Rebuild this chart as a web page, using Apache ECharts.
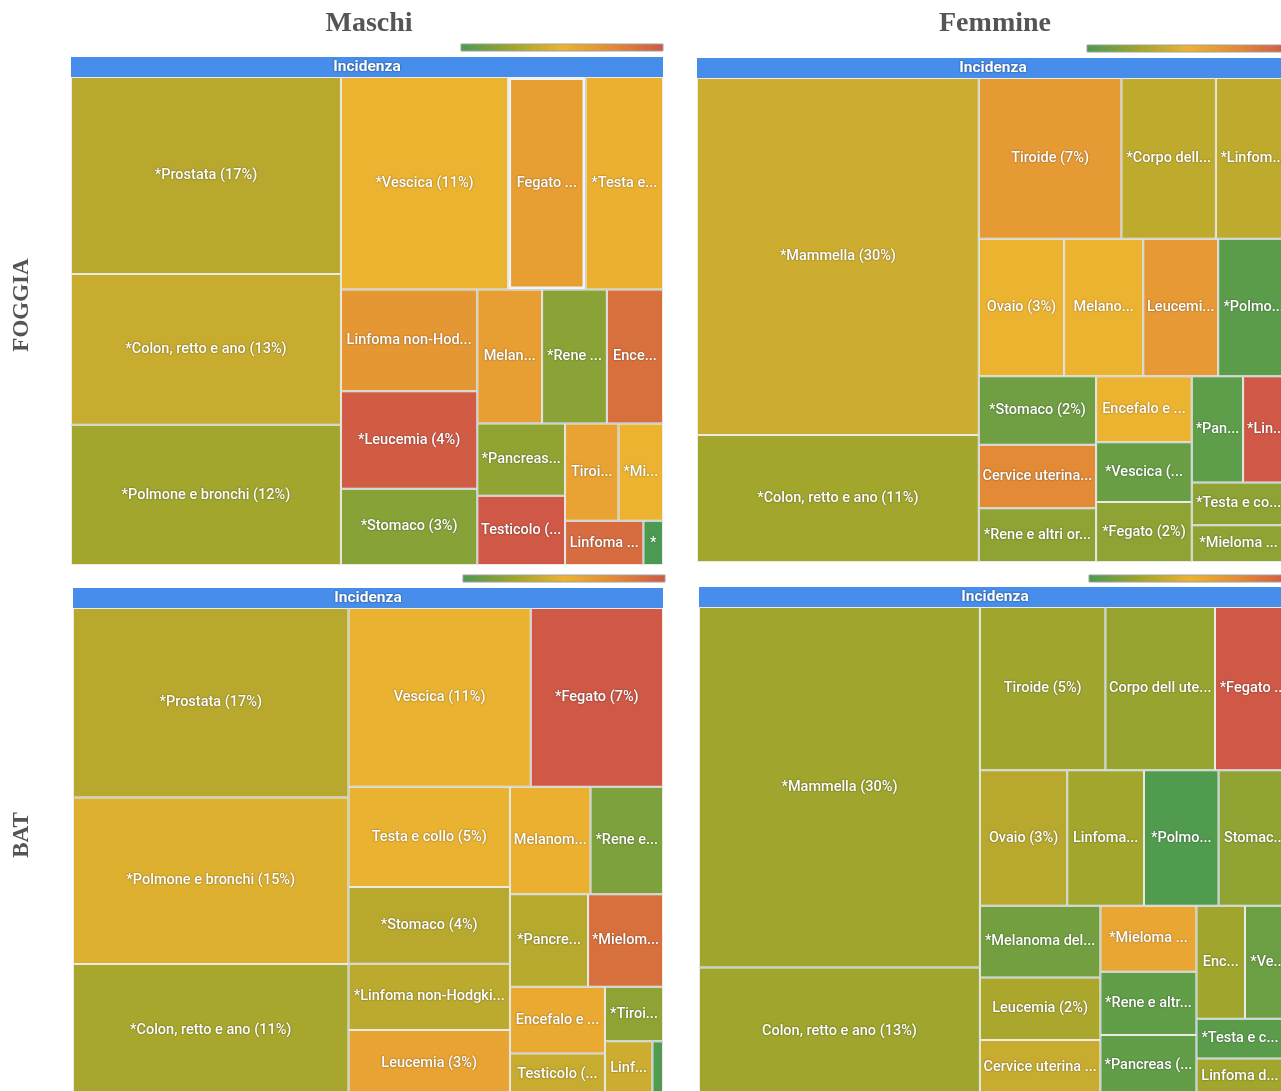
<!DOCTYPE html>
<html>
<head>
<meta charset="utf-8">
<title>Incidenza - Foggia e BAT</title>
<script src="https://cdn.jsdelivr.net/npm/echarts@6/dist/echarts.min.js"></script>
<style>
  html, body {margin: 0; padding: 0; background: #fff;}
  #chart {width: 1281px; height: 1091px;}
</style>
</head>
<body>
<div id="chart"></div>
<script>
// FOGGIA - Maschi
const fgMaschiNames = ['*Prostata (17%)', '*Colon, retto e ano (13%)', '*Polmone e bronchi (12%)', '*Vescica (11%)',
  '*Testa e collo (5%)', 'Fegato (5%)', 'Linfoma non-Hodgkin (4%)', '*Leucemia (4%)', '*Stomaco (3%)',
  '*Rene e altri organi urinari (3%)', 'Melanoma della pelle (3%)', 'Encefalo e Sistema nervoso centrale (2%)',
  '*Pancreas (2%)', 'Testicolo (2%)', 'Tiroide (1%)', '*Mieloma multiplo (1%)', 'Linfoma di Hodgkin (1%)', '*Mesotelioma (0%)'];
const fgMaschiSize = [18.4, 14.1, 13.1, 12.3, 5.7, 5.7, 4.8, 4.6, 3.6, 3.0, 3.0, 2.6, 2.2, 2.1, 1.8, 1.5, 1.2, 0.3];
const fgMaschiTone = [0.33, 0.38, 0.26, 0.5, 0.52, 0.62, 0.67, 0.98, 0.18, 0.19, 0.63, 0.88, 0.21, 1.0, 0.6, 0.5, 0.9, 0.0];

// FOGGIA - Femmine
const fgFemmineNames = ['*Mammella (30%)', '*Colon, retto e ano (11%)', 'Tiroide (7%)', '*Corpo dell utero (4%)', 'Ovaio (3%)',
  '*Linfoma non-Hodgkin (3%)', 'Leucemia (3%)', 'Melanoma della pelle (3%)', '*Polmone e bronchi (3%)', '*Stomaco (2%)',
  'Cervice uterina (2%)', 'Encefalo e Sistema nervoso centrale (2%)', '*Rene e altri organi urinari (2%)', '*Fegato (2%)',
  '*Vescica (2%)', '*Pancreas (2%)', '*Linfoma di Hodgkin (1%)', '*Testa e collo (1%)', '*Mieloma multiplo (1%)', '*Mesotelioma (0%)'];
const fgFemmineSize = [35.1, 12.5, 8.0, 5.3, 4.1, 4.1, 3.6, 3.8, 3.4, 2.8, 2.6, 2.2, 2.2, 2.0, 2.0, 1.9, 1.7, 1.4, 1.2, 0.1];
const fgFemmineTone = [0.4, 0.26, 0.65, 0.35, 0.5, 0.35, 0.66, 0.5, 0.05, 0.11, 0.75, 0.5, 0.2, 0.2, 0.09, 0.06, 1.0, 0.2, 0.2, 0.0];

// BAT - Maschi
const batMaschiNames = ['*Prostata (17%)', '*Polmone e bronchi (15%)', '*Colon, retto e ano (11%)', 'Vescica (11%)', '*Fegato (7%)',
  'Testa e collo (5%)', '*Stomaco (4%)', 'Leucemia (3%)', '*Linfoma non-Hodgkin (3%)', 'Melanoma della pelle (3%)',
  '*Rene e altri organi urinari (2%)', '*Pancreas (2%)', '*Mieloma multiplo (2%)', 'Encefalo e Sistema nervoso centrale (2%)',
  'Testicolo (1%)', '*Tiroide (1%)', 'Linfoma di Hodgkin (1%)', '*Mesotelioma (0%)'];
const batMaschiSize = [18.1, 15.9, 12.6, 11.3, 8.2, 5.6, 4.3, 3.7, 3.7, 3.0, 2.7, 2.5, 2.4, 2.2, 1.4, 1.1, 0.9, 0.2];
const batMaschiTone = [0.33, 0.45, 0.28, 0.49, 1.0, 0.49, 0.33, 0.6, 0.34, 0.52, 0.15, 0.32, 0.88, 0.56, 0.38, 0.2, 0.4, 0.02];

// BAT - Femmine
const batFemmineNames = ['*Mammella (30%)', 'Colon, retto e ano (13%)', 'Tiroide (5%)', 'Corpo dell utero (5%)', '*Fegato (4%)',
  'Ovaio (3%)', 'Linfoma non-Hodgkin (3%)', '*Polmone e bronchi (3%)', 'Stomaco (3%)', '*Melanoma della pelle (3%)',
  'Leucemia (2%)', 'Cervice uterina (2%)', '*Mieloma multiplo (2%)', '*Rene e altri organi urinari (2%)', '*Pancreas (2%)',
  'Encefalo e Sistema nervoso centrale (2%)', '*Vescica (2%)', '*Testa e collo (1%)', 'Linfoma di Hodgkin (1%)', 'Mesotelioma (0%)'];
const batFemmineSize = [35.1, 12.4, 7.1, 6.2, 4.3, 4.1, 3.6, 3.5, 3.4, 3.0, 2.6, 2.3, 2.2, 2.1, 2.0, 1.9, 1.8, 1.2, 1.1, 0.2];
const batFemmineTone = [0.25, 0.25, 0.25, 0.23, 1.0, 0.33, 0.26, 0.02, 0.21, 0.12, 0.29, 0.38, 0.58, 0.07, 0.07, 0.25, 0.1, 0.05, 0.26, 0.0];

const colorScale = ['#4a9a52', '#9fa52d', '#ecb330', '#e28a36', '#cf5846'];
const sans = 'Roboto, "Noto Sans", sans-serif';
const serif = '"Liberation Serif", "DejaVu Serif", serif';

// [left, top, width, height] of each treemap (header included)
const boxes = [[71, 57, 592, 508], [697, 58, 592, 504], [73, 588, 590, 508], [699, 587, 592, 508]];

function makeSeries(names, sizes, tones, box, hovered) {
  return {
    type: 'treemap',
    left: box[0], top: box[1], width: box[2], height: box[3],
    roam: false,
    nodeClick: false,
    breadcrumb: {show: false},
    data: [{
      name: 'Incidenza',
      children: names.map((name, i) => {
        const item = {name, value: [sizes[i], tones[i]]};
        if (name === hovered) item.itemStyle = {borderColor: '#f3f3f0', borderWidth: 3};
        return item;
      })
    }],
    label: {
      fontFamily: sans,
      fontSize: 14.5,
      fontWeight: 500,
      color: '#fff',
      padding: 2,
      textShadowColor: 'rgba(0,0,0,0.5)',
      textShadowBlur: 2
    },
    levels: [
      {itemStyle: {borderWidth: 0, gapWidth: 0}},
      {
        color: colorScale,
        colorMappingBy: 'value',
        visualDimension: 1,
        visualMin: 0,
        visualMax: 1,
        itemStyle: {borderColor: '#468dec', borderWidth: 0, gapWidth: 0},
        upperLabel: {
          show: true, height: 20, position: 'inside', align: 'center',
          fontFamily: sans, fontSize: 15.5, fontWeight: 'bold', color: '#fff',
          textShadowColor: 'rgba(0,0,0,0.6)', textShadowBlur: 2
        }
      },
      {itemStyle: {borderColor: '#ebebe4', borderWidth: 1, gapWidth: 0}}
    ]
  };
}

const legendBar = (x, y) => ({
  type: 'rect',
  x, y,
  shape: {width: 202, height: 7},
  style: {
    fill: new echarts.graphic.LinearGradient(0, 0, 1, 0,
      colorScale.map((c, i) => ({offset: i / (colorScale.length - 1), color: c}))),
    stroke: '#a0a0a0',
    lineWidth: 1
  }
});

const rowLabel = (text, y) => ({
  type: 'text',
  x: 22, y,
  rotation: Math.PI / 2,
  style: {
    text,
    fill: '#555',
    font: 'bold 23px ' + serif,
    align: 'center', verticalAlign: 'middle',
    textAlign: 'center', textVerticalAlign: 'middle'
  }
});

const titleStyle = {fontFamily: serif, fontSize: 28, fontWeight: 'bold', color: '#555'};

const chart = echarts.init(document.getElementById('chart'));
chart.setOption({
  animation: false,
  backgroundColor: '#fff',
  title: [
    {text: 'Maschi', left: 364, top: 5, textAlign: 'center', textStyle: titleStyle},
    {text: 'Femmine', left: 990, top: 5, textAlign: 'center', textStyle: titleStyle}
  ],
  graphic: [
    legendBar(461, 44), legendBar(1087, 45), legendBar(463, 575), legendBar(1089, 575),
    rowLabel('FOGGIA', 305), rowLabel('BAT', 835)
  ],
  series: [
    makeSeries(fgMaschiNames, fgMaschiSize, fgMaschiTone, boxes[0], 'Fegato (5%)'),
    makeSeries(fgFemmineNames, fgFemmineSize, fgFemmineTone, boxes[1]),
    makeSeries(batMaschiNames, batMaschiSize, batMaschiTone, boxes[2]),
    makeSeries(batFemmineNames, batFemmineSize, batFemmineTone, boxes[3])
  ]
});
</script>
</body>
</html>
